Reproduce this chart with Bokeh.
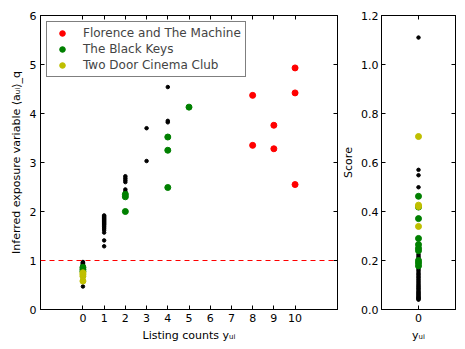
from bokeh.plotting import figure
from bokeh.layouts import row
from bokeh.models import Span, LinearAxis, FixedTicker, NumeralTickFormatter, Range1d
from bokeh.embed import file_html
from bokeh.resources import INLINE

# ---------------- data ----------------
# Left panel: other artists (black), by listing count
other_counts = ([0] * 21) + ([1] * 17) + ([2] * 6) + ([3] * 2) + ([4] * 3)
other_exposure = [0.47, 0.64, 0.68, 0.71, 0.74, 0.77, 0.80, 0.82, 0.84, 0.86, 0.87,
                  0.88, 0.89, 0.90, 0.91, 0.92, 0.93, 0.94, 0.95, 0.96, 0.97,
                  1.29, 1.41, 1.57, 1.62, 1.66, 1.69, 1.72, 1.74, 1.76, 1.78, 1.80,
                  1.82, 1.84, 1.86, 1.88, 1.90, 1.92,
                  2.41, 2.45, 2.60, 2.64, 2.68, 2.72,
                  3.03, 3.70,
                  3.82, 3.85, 4.54]

florence_counts = [8, 8, 9, 9, 10, 10, 10]
florence_exposure = [3.35, 4.37, 3.28, 3.76, 2.55, 4.42, 4.93]

blackkeys_counts = [0, 0, 0, 2, 2, 2, 4, 4, 4, 5]
blackkeys_exposure = [0.78, 0.82, 0.86, 2.00, 2.30, 2.35, 2.49, 3.25, 3.52, 4.13]

twodoor_counts = [0, 0, 0, 0]
twodoor_exposure = [0.58, 0.68, 0.72, 0.75]

# Right panel: scores for y_ui = 0
other_score = [1.11, 0.570, 0.548, 0.499, 0.225, 0.218, 0.212, 0.205, 0.198, 0.19,
               0.183, 0.176, 0.170, 0.163, 0.157, 0.150, 0.144, 0.138, 0.132, 0.126,
               0.120, 0.114, 0.108, 0.102, 0.097, 0.092, 0.087, 0.082, 0.077, 0.072,
               0.068, 0.064, 0.060, 0.056, 0.052, 0.049, 0.046, 0.043, 0.040]
blackkeys_score = [0.462, 0.418, 0.371, 0.290, 0.265, 0.250, 0.240, 0.200, 0.190, 0.178]
twodoor_score = [0.706, 0.426, 0.420, 0.339]

left_xticks = [0, 1, 2, 3, 4, 5, 6, 7, 8, 9, 10]
left_yticks = [0, 1, 2, 3, 4, 5, 6]
right_yticks = [0.0, 0.2, 0.4, 0.6, 0.8, 1.0, 1.2]
threshold = 1.0

RED = "#ff0000"
GREEN = "#008000"
YELLOW = "#bfbf00"
FONT = "DejaVu Sans"


def style_axis(ax):
    ax.major_tick_in = 4
    ax.major_tick_out = 0
    ax.minor_tick_line_color = None
    ax.axis_line_color = "black"
    ax.major_tick_line_color = "black"
    ax.major_label_text_font = FONT
    ax.major_label_text_font_size = "11px"
    ax.major_label_text_color = "black"
    ax.axis_label_text_font = FONT
    ax.axis_label_text_font_size = "11px"
    ax.axis_label_text_font_style = "normal"
    ax.axis_label_text_color = "black"
    ax.major_label_standoff = 4
    ax.axis_label_standoff = 4


def add_mirror_axes(p, xticks, yticks):
    top = LinearAxis(ticker=FixedTicker(ticks=xticks))
    style_axis(top)
    top.major_label_overrides = {t: "" for t in xticks}
    top.major_label_text_font_size = "0px"
    top.major_label_standoff = 0
    top.axis_label_standoff = 0
    p.add_layout(top, "above")
    right = LinearAxis(ticker=FixedTicker(ticks=yticks))
    style_axis(right)
    right.major_label_overrides = {t: "" for t in yticks}
    right.major_label_text_font_size = "0px"
    right.major_label_standoff = 0
    right.axis_label_standoff = 0
    p.add_layout(right, "right")


# ---------------- left panel ----------------
p = figure(frame_width=297, frame_height=294, x_range=Range1d(-2, 12), y_range=Range1d(0, 6),
           output_backend="svg", toolbar_location=None,
           min_border_left=40, min_border_right=2, min_border_top=15, min_border_bottom=34)
p.outline_line_color = "black"
p.grid.grid_line_color = None
p.xaxis.ticker = FixedTicker(ticks=left_xticks)
p.yaxis.ticker = FixedTicker(ticks=left_yticks)
style_axis(p.xaxis[0])
style_axis(p.yaxis[0])
p.xaxis.axis_label = "Listing counts yᵤᵢ"
p.yaxis.axis_label = "Inferred exposure variable ⟨aᵤᵢ⟩_q"
add_mirror_axes(p, left_xticks, left_yticks)

p.add_layout(Span(location=threshold, dimension="width", line_color=RED,
                  line_dash="5 4", line_width=1))

p.scatter(other_counts, other_exposure, size=3.5, color="black")
p.scatter(florence_counts, florence_exposure, size=6, color=RED,
          legend_label="Florence and The Machine")
p.scatter(blackkeys_counts, blackkeys_exposure, size=6, color=GREEN,
          legend_label="The Black Keys")
p.scatter(twodoor_counts, twodoor_exposure, size=6, color=YELLOW,
          legend_label="Two Door Cinema Club")

lg = p.legend[0]
lg.location = "top_left"
lg.margin = 6
lg.padding = 4
lg.spacing = 2
lg.label_height = 14
lg.glyph_height = 14
lg.glyph_width = 22
lg.label_standoff = 10
lg.label_text_font = FONT
lg.label_text_font_size = "12px"
lg.border_line_color = "black"
lg.border_line_width = 1
lg.background_fill_alpha = 1.0

# ---------------- right panel ----------------
q = figure(frame_width=74, frame_height=294, x_range=Range1d(-1, 1), y_range=Range1d(0, 1.2),
           output_backend="svg", toolbar_location=None,
           min_border_left=36, min_border_right=3, min_border_top=15, min_border_bottom=34)
q.outline_line_color = "black"
q.grid.grid_line_color = None
q.xaxis.ticker = FixedTicker(ticks=[0])
q.yaxis.ticker = FixedTicker(ticks=right_yticks)
q.yaxis.formatter = NumeralTickFormatter(format="0.0")
style_axis(q.xaxis[0])
style_axis(q.yaxis[0])
q.yaxis.major_label_standoff = 3
q.yaxis.axis_label_standoff = 3
q.xaxis.axis_label = "yᵤᵢ"
q.yaxis.axis_label = "Score"
add_mirror_axes(q, [0], right_yticks)

q.scatter([0] * len(other_score), other_score, size=3.5, color="black")
q.scatter([0] * len(blackkeys_score), blackkeys_score, size=6, color=GREEN)
q.scatter([0] * len(twodoor_score), twodoor_score, size=6, color=YELLOW)

layout = row(p, q, spacing=-5)
open("out.html", "w").write(file_html(layout, INLINE))
